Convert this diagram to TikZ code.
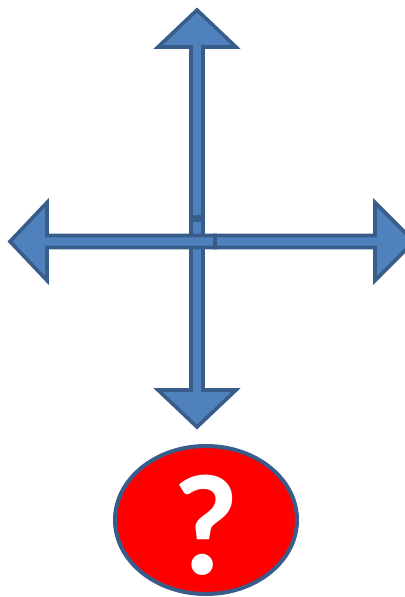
\documentclass[tikz,border=0pt]{standalone}
\usepackage{fontspec}
\newfontfamily\qfont{Carlito}
\usetikzlibrary{shapes.geometric}
\definecolor{arrowfill}{HTML}{4F81BD}
\definecolor{arrowline}{HTML}{385D8A}
\begin{document}
\begin{tikzpicture}[x=0.5pt, y=-0.5pt,
    blockarrow/.style={fill=arrowfill, draw=arrowline, line width=1.8pt, line join=miter},
    bubble/.style={ellipse, fill=red, draw=arrowline, line width=2pt,
      minimum width=91pt, minimum height=74pt, inner sep=0pt},
    qmark/.style={text=white, font=\qfont\bfseries\fontsize{72}{72}\selectfont, inner sep=0pt}]
    \useasboundingbox (0,0) rectangle (405,597);
    %\draw[step=10, gray, very thin] (0,0) grid (405,597);
    \begin{scope}
    % up
    \draw[blockarrow] (197,10)--(236,47)--(203,47)--(203,217)--(191,217)--(191,47)--(158,47)--cycle;
    % down
    \draw[blockarrow] (197,427)--(236,390)--(203,390)--(203,220)--(191,220)--(191,390)--(158,390)--cycle;
    % left
    \draw[blockarrow] (10,241.5)--(47,202.5)--(47,235.5)--(215,235.5)--(215,247.5)--(47,247.5)--(47,280.5)--cycle;
    % right
    \draw[blockarrow] (414,241.5)--(375,202.5)--(375,235.5)--(215,235.5)--(215,247.5)--(375,247.5)--(375,280.5)--cycle;
    \end{scope}
    \node[bubble] (query) at (206,520) {};
    \node[qmark] (mark) at ([yshift=-2.5pt]query.center) {?};
\end{tikzpicture}
\end{document}
